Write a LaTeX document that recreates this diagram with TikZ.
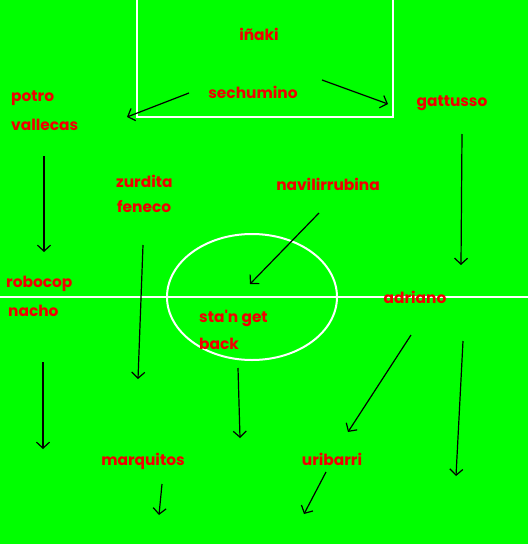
\documentclass[tikz,border=0pt]{standalone}
\usepackage{fontspec}
\setmainfont{Poppins}
\usetikzlibrary{arrows.meta}
\definecolor{pitch}{HTML}{00FF00}
\definecolor{lbl}{HTML}{F00000}
\tikzset{
  player/.style={text=lbl, font=\fontsize{15.4}{17}\selectfont\bfseries, inner sep=0pt, anchor=west},
  pchar/.style={player, anchor=center},
  run/.style={draw=black, line width=1.2pt, -{Straight Barb[length=6pt,width=13pt,line width=1.2pt]}},
  chalk/.style={draw=white, line width=2pt}
}
\begin{document}
\begin{tikzpicture}[x=1pt,y=-1pt]
\fill[pitch] (0,0) rectangle (528,544);
\useasboundingbox (0,0) rectangle (528,544);
\clip (0,0) rectangle (528,544);
% pitch markings
\draw[chalk] (137,-5) -- (137,117) -- (393,117) -- (393,-5);
\draw[chalk] (0,297) -- (528,297);
\draw[chalk] (252,297) ellipse [x radius=85, y radius=63];
% players
\node[pchar] (inaki) at (259,34) {iñaki};
\node[pchar] (sechumino) at (253,92) {sechumino};
\node[player] (potro) at (11,98) {potro};
\node[player] (vallecas) at (11,125) {vallecas};
\node[pchar] (gattusso) at (452,103) {gattusso};
\node[player] (zurdita) at (116,181) {zurdita};
\node[player] (feneco) at (117,207) {feneco};
\node[pchar] (navi) at (328,184) {navilirrubina};
\node[player] (robocop) at (6,284) {robocop};
\node[player] (nacho) at (8,311) {nacho};
\node[pchar] (adriano) at (415,297) {adriano};
\node[player] (stan) at (199,318) {sta\textquotesingle n get};
\node[player] (back) at (199,344) {back};
\node[pchar] (marquitos) at (143,461) {marquitos};
\node[pchar] (uribarri) at (332,459) {uribarri};
% arrow ends
\coordinate (a1s) at (189,93);  \coordinate (a1e) at (127,117);
\coordinate (a2s) at (322,80);  \coordinate (a2e) at (388,104);
\coordinate (a3s) at (44,156);  \coordinate (a3e) at (44,252);
\coordinate (a4s) at (462,134); \coordinate (a4e) at (461,265);
\coordinate (a5s) at (143,245); \coordinate (a5e) at (138,379);
\coordinate (a6s) at (319,213); \coordinate (a6e) at (250,284);
\coordinate (a7s) at (43,362);  \coordinate (a7e) at (43,449);
\coordinate (a8s) at (238,368); \coordinate (a8e) at (240,438);
\coordinate (a9s) at (411,335); \coordinate (a9e) at (348,432);
\coordinate (a10s) at (463,341); \coordinate (a10e) at (456,476);
\coordinate (a11s) at (162,484); \coordinate (a11e) at (159,515);
\coordinate (a12s) at (326,472); \coordinate (a12e) at (304,514);
\foreach \i in {1,...,12} \draw[run] (a\i s) -- (a\i e);
\end{tikzpicture}
\end{document}
